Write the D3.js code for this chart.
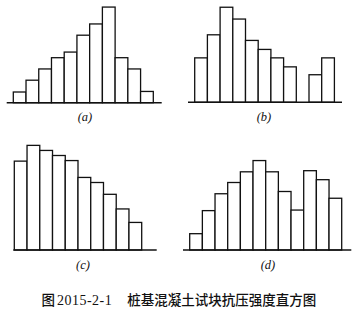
<!DOCTYPE html>
<html>
<head>
<meta charset="utf-8">
<script src="https://cdn.jsdelivr.net/npm/d3@7"></script>
<style>
  body { margin: 0; background: #fff; }
</style>
</head>
<body>
<div id="chart"></div>
<script>
const width = 356;
const height = 315;

const valuesA = [0.95, 2, 3, 4, 4.5, 6, 7, 8.5, 4, 3, 1];
const valuesB = [3.95, 6, 8.45, 7.4, 5.5, 4.7, 3.95, 3.15, 0, 2.45, 3.95];
const valuesC = [7.9, 9.3, 8.85, 8.4, 7.95, 6.45, 6, 4.95, 3.65, 2.45];
const valuesD = [1.45, 3.5, 5, 6, 6.95, 7.95, 6.95, 5.2, 3.55, 7.05, 6.25, 4.6];

const labels = ["(a)", "(b)", "(c)", "(d)"];
const caption = ["图", "2015-2-1", "桩基混凝土试块抗压强度直方图"];

// posición de cada panel
const panels = [
  {values: valuesA, x0: 13.3, x1: 153.3, base: 102.7, axis: [6.7, 161.7], lx: 85, ly: 121},
  {values: valuesB, x0: 194.7, x1: 334.4, base: 102.3, axis: [188, 342], lx: 264, ly: 121},
  {values: valuesC, x0: 14.3, x1: 141.7, base: 250, axis: [13.3, 156.7], lx: 83, ly: 269},
  {values: valuesD, x0: 189.7, x1: 341.7, base: 250, axis: [183, 351.3], lx: 268, ly: 269}
];

const svg = d3.select("#chart").append("svg")
    .attr("width", width)
    .attr("height", height);

panels.forEach((p, i) => {
  const x = d3.scaleBand()
      .domain(d3.range(p.values.length))
      .range([p.x0, p.x1])
      .padding(0);

  const y = d3.scaleLinear()
      .domain([0, 10])
      .range([p.base, p.base - 112.5]);

  const g = svg.append("g");

  g.selectAll("rect")
    .data(p.values.map((v, j) => ({v, j})).filter(d => d.v > 0))
    .join("rect")
      .attr("x", d => x(d.j))
      .attr("y", d => y(d.v))
      .attr("width", x.bandwidth())
      .attr("height", d => y(0) - y(d.v))
      .attr("fill", "#fff")
      .attr("stroke", "#111")
      .attr("stroke-width", 1.3);

  // línea base
  g.append("line")
      .attr("x1", p.axis[0])
      .attr("x2", p.axis[1])
      .attr("y1", y(0))
      .attr("y2", y(0))
      .attr("stroke", "#111")
      .attr("stroke-width", 1.4);

  g.append("text")
      .attr("x", p.lx)
      .attr("y", p.ly)
      .attr("text-anchor", "middle")
      .attr("font-family", "'Liberation Serif', serif")
      .attr("font-style", "italic")
      .attr("font-size", 12.5)
      .attr("fill", "#111")
      .text(labels[i]);
});

// pie de figura
svg.append("text")
    .attr("x", 41.5)
    .attr("y", 305)
    .attr("fill", "#111")
    .attr("font-size", 13.5)
    .attr("font-family", "'Noto Sans CJK SC', sans-serif")
    .attr("font-weight", 500)
    .text(caption[0]);

svg.append("text")
    .attr("x", 57)
    .attr("y", 305)
    .attr("fill", "#111")
    .attr("font-size", 14)
    .attr("font-family", "'Liberation Serif', serif")
    .attr("textLength", 54.7)
    .attr("lengthAdjust", "spacing")
    .text(caption[1]);

svg.append("text")
    .attr("x", 127.3)
    .attr("y", 305)
    .attr("fill", "#111")
    .attr("font-size", 13.5)
    .attr("font-family", "'Noto Sans CJK SC', sans-serif")
    .attr("font-weight", 500)
    .text(caption[2]);
</script>
</body>
</html>
